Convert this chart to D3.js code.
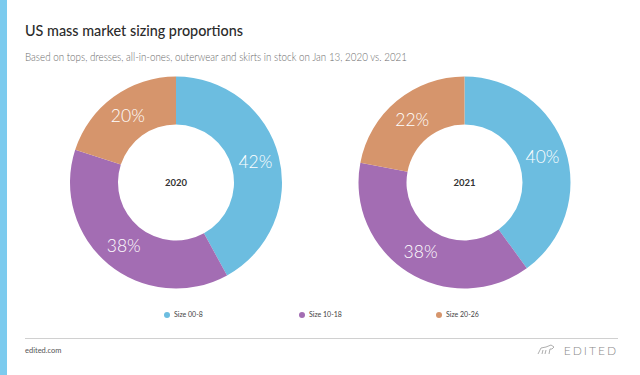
<!DOCTYPE html>
<html>
<head>
<meta charset="utf-8">
<script src="https://cdn.jsdelivr.net/npm/d3@7"></script>
<style>
body{margin:0;background:#fff;}
svg{display:block;font-family:Lato,"Open Sans",sans-serif;}
</style>
</head>
<body>
<div id="chartwrap"></div>
<script>
// data
var categories = ["Size 00-8", "Size 10-18", "Size 20-26"];
var years = ["2020", "2021"];
var values2020 = [42, 38, 20];
var values2021 = [40, 38, 22];
var colors = ["#6cbde0", "#a36db3", "#d6956c"];

var width = 640, height = 375;
var svg = d3.select("#chartwrap").append("svg").attr("width", width).attr("height", height);

//left accent bar
svg.append("rect").attr("x",0).attr("y",0).attr("width",7).attr("height",height).attr("fill","#7ccbee");

svg.append("text").attr("x",25).attr("y",36).attr("font-size","16px").attr("font-weight",500)
	.attr("textLength",218).attr("lengthAdjust","spacingAndGlyphs")
	.attr("fill","#2b2b2b").text("US mass market sizing proportions");
svg.append("text").attr("x",25).attr("y",61).attr("font-size","11.5px").attr("font-weight",300)
	.attr("textLength",382).attr("lengthAdjust","spacingAndGlyphs")
	.attr("fill","#6b6b6b").text("Based on tops, dresses, all-in-ones, outerwear and skirts in stock on Jan 13, 2020 vs. 2021");

var x = d3.scalePoint().domain(years).range([176, 464.5]);
var cy = 182.5;
var outer = 106, inner = 58;

var pie = d3.pie().sort(null).value(function(d){return d.v});
var arc = d3.arc().innerRadius(inner).outerRadius(outer);
var labelArc = d3.arc().innerRadius(82).outerRadius(82);

var series = [values2020, values2021];
years.forEach(function(yr, i){
	var data = categories.map(function(c, j){return {cat:c, v:series[i][j], col:colors[j]}});
	var g = svg.append("g").attr("transform","translate("+x(yr)+","+cy+")");
	var arcs = pie(data);
	g.selectAll("path").data(arcs).enter().append("path")
		.attr("d", arc).attr("fill", function(d){return d.data.col});
	g.selectAll("text.pct").data(arcs).enter().append("text").classed("pct",true)
		.attr("transform", function(d){return "translate("+labelArc.centroid(d)+")"})
		.attr("text-anchor","middle").attr("dy","0.36em")
		.attr("font-size","17.5px").attr("font-weight",300).attr("fill","#fff")
		.text(function(d){return d.data.v+"%"});
	g.append("text").attr("text-anchor","middle").attr("dy","0.36em")
		.attr("font-size","9.5px").attr("font-weight",700).attr("fill","#333").text(yr);
});

//legend
var legendX = d3.scaleOrdinal().domain(categories).range([167, 302, 439]);
var lg = svg.selectAll("g.legend").data(categories).enter().append("g").classed("legend",true)
	.attr("transform", function(d){return "translate("+legendX(d)+",315)"});
lg.append("circle").attr("r",3).attr("fill", function(d,i){return colors[i]});
lg.append("text").attr("x",7).attr("dy","0.35em").attr("font-size","7px").attr("fill","#444")
	.text(function(d){return d});

//footer
svg.append("line").attr("x1",25).attr("x2",618).attr("y1",338.5).attr("y2",338.5)
	.attr("stroke","#d0d0d0").attr("stroke-width",1);
svg.append("text").attr("x",25).attr("y",353).attr("font-size","7.5px").attr("fill","#555").text("edited.com");
svg.append("text").attr("x",618).attr("y",355).attr("text-anchor","end").attr("font-size","12px")
	.attr("font-weight",300).attr("letter-spacing","2px").attr("fill","#8a8a8a").text("EDITED");
//small bear-ish logo mark
var logo = svg.append("g").attr("transform","translate(538,345)").attr("fill","none").attr("stroke","#999").attr("stroke-width",0.8);
logo.append("path").attr("d","M0,9 L3,3 L8,2 L13,0 L16,2 L14,4 L12,4 L11,9 M4,9 L5,5 M7,9 L8,5");
</script>
</body>
</html>
